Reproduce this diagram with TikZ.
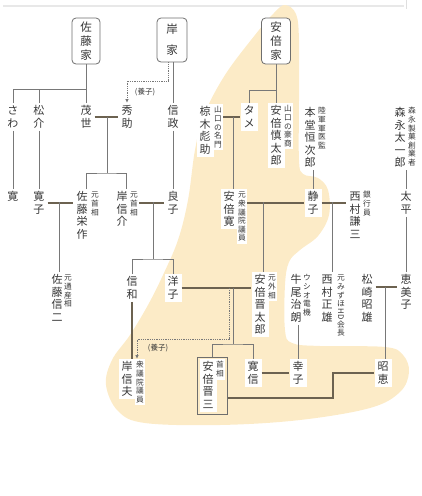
\documentclass[tikz,border=0pt]{standalone}
\usepackage{fontspec}
\usepackage{graphicx}
\newfontfamily\jp{Noto Sans CJK JP}
\usetikzlibrary{arrows.meta,fit}
\definecolor{beige}{RGB}{252,235,199}
\definecolor{txt}{RGB}{55,55,55}
\definecolor{kinc}{RGB}{120,120,120}
\definecolor{marc}{RGB}{108,98,80}
\definecolor{boxc}{RGB}{110,110,110}
\newcommand\vtloop[1]{\ifx\relax#1\else\hbox to 1em{\hss\vrule height .88em depth .12em width 0pt\relax #1\hss}\expandafter\vtloop\fi}
\newcommand\vt[1]{\vbox{\vtloop#1\relax}}
\newcommand\nmfont{\jp\fontsize{11}{12.5}\selectfont}
\newcommand\anfont{\jp\fontsize{7.7}{8.6}\selectfont}
\tikzset{
  nm/.style={font=\nmfont, fill=white, inner xsep=3pt, inner ysep=2pt, anchor=north, text=txt},
  an/.style={font=\anfont, fill=white, inner xsep=1.3pt, inner ysep=2pt, anchor=north, text=txt},
  fam/.style={draw=boxc, line width=0.8pt, rounded corners=4pt, fill=white, text=txt, inner sep=1pt},
  kin/.style={draw=kinc, line width=0.8pt},
  marry/.style={draw=marc, line width=2.6pt},
  adopt/.style={draw=kinc, line width=0.8pt, densely dotted, -{Latex[length=4pt,width=3.5pt]}},
  lbl/.style={font=\jp\fontsize{7.5}{9}\selectfont, text=txt, inner sep=0pt}
}
\begin{document}
\begin{tikzpicture}[x=1pt,y=-1pt]
\useasboundingbox (0,0) rectangle (421,496);
% faint frame line at top
\draw[gray!18, line width=1.2pt] (3,6) -- (404,6);
\draw[gray!25, line width=1pt] (406,0) -- (406,9);
% highlighted Abe region
\fill[beige] plot[smooth cycle, tension=0.6] coordinates {
 (285,5) (296,14) (299,40) (299,100) (299,160) (303,174) (318,178) (328,190)
 (329,215) (318,236) (300,250) (289,262) (285,285) (285,330) (292,343)
 (320,346) (385,347) (403,355) (409,372) (400,392) (370,408) (300,420)
 (220,425) (145,423) (118,411) (106,385) (112,360) (130,335) (148,305)
 (163,275) (178,240) (188,200) (195,150) (204,115) (225,75) (255,35) (274,13)};

% family boxes
\node[fam, minimum width=28pt, minimum height=46pt, font=\jp\fontsize{11.5}{14}\selectfont] (satoke) at (86,41) {\vt{佐藤家}};
\node[fam, minimum width=30pt, minimum height=44pt, font=\jp\fontsize{11.5}{21}\selectfont] (kishike) at (172,40) {\vt{岸家}};
\node[fam, minimum width=29pt, minimum height=46pt, font=\jp\fontsize{11.5}{14}\selectfont] (abeke) at (276,41) {\vt{安倍家}};

% generation 1
\node[nm] (sawa) at (13,103) {\vt{さわ}};
\node[nm] (shosuke) at (39,103) {\vt{松介}};
\node[nm] (shigeyo) at (86,103) {\vt{茂世}};
\node[nm] (hidesuke) at (127,103) {\vt{秀助}};
\node[nm] (nobumasa) at (173,103) {\vt{信政}};
\node[nm] (mukunoki) at (205,104) {\vt{椋木彪助}};
\node[an] (mukunokiA) at (218,104) {\vt{山口の名門}};
\node[nm] (tame) at (249,103) {\vt{タメ}};
\node[nm] (shintaroS) at (276,103) {\vt{安倍慎太郎}};
\node[an] (shintaroSA) at (288,103) {\vt{山口の豪商}};
\node[nm] (hondo) at (310,105) {\vt{本堂恒次郎}};
\node[an] (hondoA) at (322,105) {\vt{陸軍軍医監}};
\node[nm] (morinaga) at (400,105) {\vt{森永太一郎}};
\node[an] (morinagaA) at (412,105) {\vt{森永製菓創業者}};

% generation 2
\node[nm] (kan) at (13,189) {\vt{寛}};
\node[nm] (hiroko) at (39,189) {\vt{寛子}};
\node[nm] (eisaku) at (82,189) {\vt{佐藤栄作}};
\node[an] (eisakuA) at (95,189) {\vt{元首相}};
\node[nm] (nobusuke) at (122,189) {\vt{岸信介}};
\node[an] (nobusukeA) at (134,189) {\vt{元首相}};
\node[nm] (yoshiko) at (173,189) {\vt{良子}};
\node[nm] (kanA) at (229,189) {\vt{安倍寛}};
\node[an] (kanAA) at (242,189) {\vt{元衆議院議員}};
\node[nm] (shizuko) at (313,189) {\vt{静子}};
\node[nm] (kenzo) at (355,189) {\vt{西村謙三}};
\node[an] (kenzoA) at (367,189) {\vt{銀行員}};
\node[nm] (taihei) at (406,189) {\vt{太平}};

% generation 3
\node[nm] (shinji) at (57,272) {\vt{佐藤信二}};
\node[an] (shinjiA) at (68,272) {\vt{元通産相}};
\node[nm] (kazunobu) at (132,274) {\vt{信和}};
\node[nm] (yoko) at (173,274) {\vt{洋子}};
\node[nm] (shintaro) at (260,272) {\vt{安倍晋太郎}};
\node[an] (shintaroA) at (272,272) {\vt{元外相}};
\node[nm] (ushio) at (296,272) {\vt{牛尾治朗}};
\node[an] (ushioA) at (307,272) {\vt{ウシオ電機}};
\node[nm] (masao) at (327,272) {\vt{西村正雄}};
\node[an] (masaoA) at (341,272) {\vbox{\vtloop 元みずほ\relax\hbox to 1em{\hss\rotatebox[origin=c]{-90}{HD}\hss}\vtloop 会長\relax}};
\node[nm] (matsuzaki) at (367,272) {\vt{松崎昭雄}};
\node[nm] (emiko) at (406,272) {\vt{恵美子}};

% generation 4
\node[nm] (nobuo) at (127,359) {\vt{岸信夫}};
\node[an] (nobuoA) at (140,359) {\vt{衆議院議員}};
\node[nm] (shinzo) at (208,359) {\vt{安倍晋三}};
\node[an] (shinzoA) at (220,359) {\vt{首相}};
\node[draw=boxc, line width=0.8pt, fit=(shinzo)(shinzoA), inner sep=2pt] (shinbox) {};
\node[nm] (hironobu) at (253,359) {\vt{寛信}};
\node[nm] (sachiko) at (298,359) {\vt{幸子}};
\node[nm] (akie) at (383,359) {\vt{昭恵}};

% junction coordinates
\coordinate (satoj) at (86,89);
\coordinate (kishij) at (168,81);
\coordinate (abej) at (276,90);
\coordinate (ssm) at (107,117);
\coordinate (ssb) at (107,173);
\coordinate (mtm) at (233,117);
\coordinate (hem) at (59,202);
\coordinate (nym) at (153,202);
\coordinate (nyb) at (153,259);
\coordinate (ksm) at (263,202);
\coordinate (skm) at (332,202);
\coordinate (ysm) at (233,288);
\coordinate (ysb) at (233,344);
\coordinate (ad1) at (229.5,288);
\coordinate (ad2) at (229.5,339);
\coordinate (mem) at (385,287);
\coordinate (saj) at (333,398);

% Sato family
\draw[kin] (satoke.south) -- (shigeyo.north);
\draw[kin] (sawa.north) |- (satoj);
\draw[kin] (shosuke.north) -- (shosuke.north |- satoj);
\draw[kin] (sawa.south) -- (kan.north);
\draw[kin] (shosuke.south) -- (hiroko.north);
% Kishi family
\draw[kin] (nobumasa.north |- kishike.south) -- (nobumasa.north);
\draw[adopt] (kishij |- kishike.south) -- (kishij) -| (hidesuke.north);
\node[lbl] (adopt1) at (145,92) {(養子)};
\draw[kin] (nobumasa.south) -- (yoshiko.north);
% Shigeyo - Hidesuke
\draw[marry] (shigeyo.east) -- (hidesuke.west);
\draw[kin] (ssm) -- (ssb);
\draw[kin] ([xshift=4pt]eisaku.north) |- (ssb) -| ([xshift=4pt]nobusuke.north);
% Abe family
\draw[kin] (abeke.south) -- (shintaroS.north);
\draw[kin] (tame.north) |- (abej);
\draw[marry] (mukunokiA.east |- tame.west) -- (tame.west);
\draw[kin] (mtm) -- (mtm |- kanA.north);
% Hondo, Morinaga
\draw[kin] (hondo.south -| shizuko.north) -- (shizuko.north);
\draw[kin] (morinaga.south -| taihei.north) -- (taihei.north);
\draw[kin] (taihei.south) -- (emiko.north);
% Hiroko - Eisaku
\draw[marry] (hiroko.east) -- (eisaku.west |- hiroko.east);
\draw[kin] (hem) -- (hem |- shinji.north);
% Nobusuke - Yoshiko
\draw[marry] (nobusukeA.east |- yoshiko.west) -- (yoshiko.west);
\draw[kin] (nym) -- (nyb);
\draw[kin] (kazunobu.north) |- (nyb) -| (yoko.north);
% Kan - Shizuko
\draw[marry] (kanAA.east |- shizuko.west) -- (shizuko.west);
\draw[kin] (ksm) -- (ksm |- shintaro.north);
% Shizuko - Kenzo
\draw[marry] (shizuko.east) -- (kenzo.west |- shizuko.east);
\draw[kin] (skm) -- (skm |- masao.north);
% Yoko - Shintaro
\draw[marry] (yoko.east) -- (shintaro.west |- yoko.east);
\draw[kin] (ysm) -- (ysb);
\draw[kin] (shinbox.north) |- (ysb) -| (hironobu.north);
\draw[adopt] (ad1) -- (ad2) -| ([xshift=-3pt]nobuoA.north);
\node[lbl] (adopt2) at (158,348) {(養子)};
\draw[marry] (kazunobu.south) -- (kazunobu.south |- nobuo.north);
% Ushio - Sachiko
\draw[kin] (sachiko.north |- ushio.south) -- (sachiko.north);
% Matsuzaki - Emiko
\draw[marry] (matsuzaki.east |- mem) -- (emiko.west |- mem);
\draw[kin] (mem) -- (mem |- akie.north);
% Hironobu - Sachiko
\draw[marry] (hironobu.east) -- (sachiko.west);
% Shinzo - Akie
\draw[marry] (shinbox.east |- saj) -- (saj) |- (akie.west);
\end{tikzpicture}
\end{document}
